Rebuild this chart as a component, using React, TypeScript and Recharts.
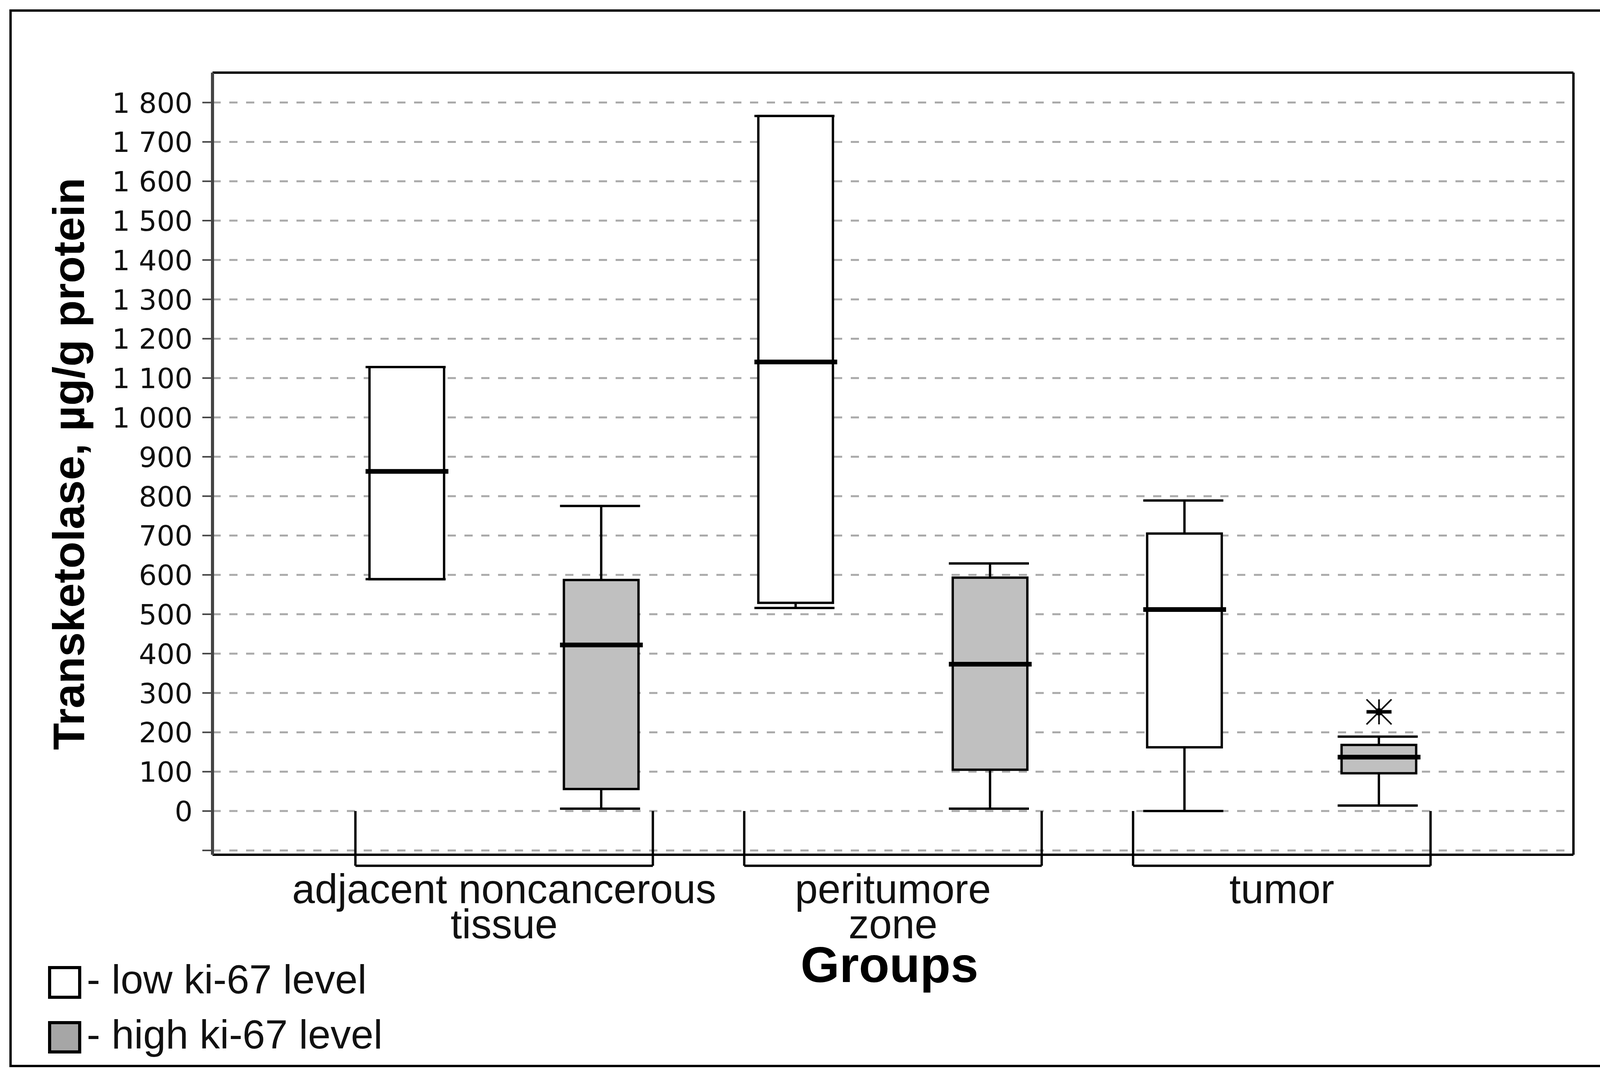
import React from "react";
import { ComposedChart, Bar, Scatter, XAxis, YAxis, CartesianGrid, ReferenceLine } from "recharts";

const W = 4266;
const H = 2771;

// groups on the x axis (each group holds a low and a high ki-67 box)
const groupLabels = [["adjacent noncancerous", "tissue"], ["peritumore", "zone"], ["tumor"]];
const groupTicks = [1.5, 3.5, 5.5];
const lowPos = [1, 3, 5];
const highPos = [2, 4, 6];

// low ki-67 level boxes
const lowMin = [589, 516, 0];
const lowQ1 = [589, 529, 162];
const lowMedian = [863, 1141, 512];
const lowQ3 = [1128, 1766, 705];
const lowMax = [1128, 1766, 789];

// high ki-67 level boxes
const highMin = [6, 6, 14];
const highQ1 = [56, 105, 96];
const highMedian = [422, 373, 137];
const highQ3 = [587, 593, 168];
const highMax = [775, 629, 189];

// outliers
const outlierPos = [6];
const outlierValue = [252];

const yTicks = [-100, 0, 100, 200, 300, 400, 500, 600, 700, 800, 900, 1000, 1100, 1200, 1300, 1400, 1500, 1600, 1700, 1800];
const Y_MIN = -111;
const Y_MAX = 1876;
const BRACKET_BOTTOM = -139;

const minorTicks: number[] = [];
for (let v = -100; v <= 1860; v += 20) minorTicks.push(v);

const boxes = [0, 1, 2].flatMap((i) => [
  { pos: lowPos[i], level: "low", min: lowMin[i], q1: lowQ1[i], median: lowMedian[i], q3: lowQ3[i], max: lowMax[i], range: [lowMin[i], lowMax[i]] },
  { pos: highPos[i], level: "high", min: highMin[i], q1: highQ1[i], median: highMedian[i], q3: highQ3[i], max: highMax[i], range: [highMin[i], highMax[i]] },
]);

const outliers = outlierPos.map((p, i) => ({ pos: p, value: outlierValue[i] }));

const fmt = (v: number) => {
  if (v < 0) return "";
  if (v >= 1000) return `${Math.floor(v / 1000)} ${String(v % 1000).padStart(3, "0")}`;
  return String(v);
};

function BoxShape(props: any) {
  const { x, y, width, height, payload } = props;
  const { min, q1, median, q3, max, level } = payload;
  const py = (v: number) => y + (height * (max - v)) / (max - min);
  const cx = x + width / 2;
  const fill = level === "high" ? "#c0c0c0" : "#ffffff";
  return (
    <g>
      <line x1={cx} x2={cx} y1={py(max)} y2={py(q3)} stroke="#000" strokeWidth={6} />
      <line x1={cx} x2={cx} y1={py(q1)} y2={py(min)} stroke="#000" strokeWidth={6} />
      <rect x={x} y={py(q3)} width={width} height={py(q1) - py(q3)} fill={fill} stroke="#000" strokeWidth={6} />
      <line x1={x - 10} x2={x + width + 4} y1={py(max)} y2={py(max)} stroke="#000" strokeWidth={6} />
      <line x1={x - 10} x2={x + width + 4} y1={py(min)} y2={py(min)} stroke="#000" strokeWidth={6} />
      <line x1={x - 10} x2={x + width + 11} y1={py(median)} y2={py(median)} stroke="#000" strokeWidth={12} />
    </g>
  );
}

function Asterisk(props: any) {
  const { cx, cy } = props;
  const r = 32;
  return (
    <g stroke="#000">
      <line x1={cx - r} x2={cx + r} y1={cy} y2={cy} strokeWidth={9} />
      <line x1={cx} x2={cx} y1={cy - r} y2={cy + r} strokeWidth={4} />
      <line x1={cx - r} x2={cx + r} y1={cy - r} y2={cy + r} strokeWidth={4} />
      <line x1={cx - r} x2={cx + r} y1={cy + r} y2={cy - r} strokeWidth={4} />
      <circle cx={cx} cy={cy} r={9} fill="#000" />
    </g>
  );
}

function GroupTick(props: any) {
  const { x, y, payload } = props;
  const lines = groupLabels[groupTicks.indexOf(payload.value)] || [];
  return (
    <text x={x} y={y} textAnchor="middle" fontFamily="'Liberation Sans', Arial, sans-serif" fontSize={105} fill="#111">
      {lines.map((l, i) => (
        <tspan key={i} x={x} dy={i === 0 ? 124 : 90}>
          {l}
        </tspan>
      ))}
    </text>
  );
}

function ValueTick(props: any) {
  const { x, y, payload } = props;
  return (
    <text x={x} y={y} dy="0.36em" textAnchor="end" fontFamily="'DejaVu Sans', Verdana, sans-serif" fontSize={72} fill="#111">
      {fmt(payload.value)}
    </text>
  );
}

export default function App() {
  const brackets = [0, 1, 2].map((i) => ({ from: lowPos[i] - 0.265, to: highPos[i] + 0.265 }));
  return (
    <div style={{ position: "absolute", left: 0, top: 0, width: W, height: H, background: "#fff" }}>
      <ComposedChart width={W} height={H} data={boxes} margin={{ top: 186, right: 238, bottom: 482, left: 542 }}>
        <CartesianGrid horizontal vertical={false} stroke="#aaaaaa" strokeWidth={5} strokeDasharray="21 22" />
        <XAxis
          type="number"
          dataKey="pos"
          domain={[0, 7]}
          allowDataOverflow
          ticks={groupTicks}
          interval={0}
          height={100}
          tickSize={0}
          tickMargin={0}
          tickLine={false}
          axisLine={{ stroke: "#000", strokeWidth: 6 }}
          tick={<GroupTick />}
        />
        <YAxis
          type="number"
          domain={[Y_MIN, Y_MAX]}
          allowDataOverflow
          ticks={yTicks}
          interval={0}
          width={1}
          tickSize={26}
          tickMargin={25}
          axisLine={{ stroke: "#444", strokeWidth: 8 }}
          tickLine={{ stroke: "#444", strokeWidth: 4 }}
          tick={<ValueTick />}
        />
        <YAxis
          yAxisId="minor"
          type="number"
          domain={[Y_MIN, Y_MAX]}
          allowDataOverflow
          ticks={minorTicks}
          interval={0}
          width={1}
          tickSize={12}
          tick={false}
          axisLine={false}
          tickLine={{ stroke: "#444", strokeWidth: 4 }}
        />
        <ReferenceLine y={Y_MAX} stroke="#000" strokeWidth={6} ifOverflow="visible" />
        <ReferenceLine x={7} stroke="#000" strokeWidth={6} ifOverflow="visible" />
        {brackets.map((b, i) => (
          <ReferenceLine key={`l${i}`} segment={[{ x: b.from, y: 0 }, { x: b.from, y: BRACKET_BOTTOM }]} stroke="#000" strokeWidth={6} ifOverflow="visible" />
        ))}
        {brackets.map((b, i) => (
          <ReferenceLine key={`r${i}`} segment={[{ x: b.to, y: 0 }, { x: b.to, y: BRACKET_BOTTOM }]} stroke="#000" strokeWidth={6} ifOverflow="visible" />
        ))}
        {brackets.map((b, i) => (
          <ReferenceLine key={`b${i}`} segment={[{ x: b.from, y: BRACKET_BOTTOM }, { x: b.to, y: BRACKET_BOTTOM }]} stroke="#000" strokeWidth={6} ifOverflow="visible" />
        ))}
        <Bar dataKey="range" barSize={191} shape={<BoxShape />} isAnimationActive={false} />
        <Scatter data={outliers} dataKey="value" shape={<Asterisk />} isAnimationActive={false} />
      </ComposedChart>
      <svg width={W} height={H} style={{ position: "absolute", left: 0, top: 0, pointerEvents: "none" }}>
        <rect x={27} y={27} width={4212} height={2703} fill="none" stroke="#000" strokeWidth={6} />
        <text
          transform="translate(215 1188) rotate(-90)"
          textAnchor="middle"
          fontFamily="'Liberation Sans', Arial, sans-serif"
          fontWeight="bold"
          fontSize={113}
          fill="#000"
        >
          Transketolase, µg/g protein
        </text>
        <text x={2277} y={2515} textAnchor="middle" fontFamily="'Liberation Sans', Arial, sans-serif" fontWeight="bold" fontSize={128} fill="#000">
          Groups
        </text>
        <rect x={127} y={2478} width={77} height={76} fill="#fff" stroke="#000" strokeWidth={8} />
        <text x={222} y={2544} fontFamily="'Liberation Sans', Arial, sans-serif" fontSize={104} fill="#111">
          - low ki-67 level
        </text>
        <rect x={127} y={2619} width={77} height={75} fill="#a6a6a6" stroke="#000" strokeWidth={8} />
        <text x={222} y={2685} fontFamily="'Liberation Sans', Arial, sans-serif" fontSize={104} fill="#111">
          - high ki-67 level
        </text>
      </svg>
    </div>
  );
}
